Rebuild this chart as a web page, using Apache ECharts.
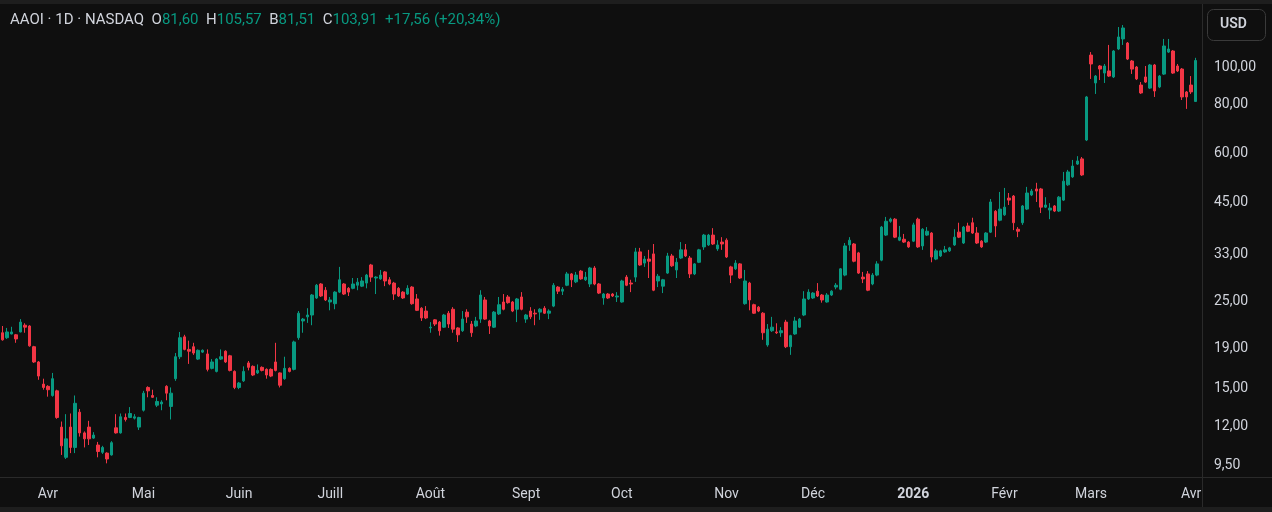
<!DOCTYPE html>
<html>
<head>
<meta charset="utf-8">
<script src="https://cdn.jsdelivr.net/npm/echarts@6/dist/echarts.min.js"></script>
<style>
html,body{margin:0;padding:0;background:#0f0f0f;}
#chart{width:1272px;height:512px;}
</style>
</head>
<body>
<div id="chart"></div>
<script>
// ---- data (AAOI daily, 2025-03-18 .. 2026-04-02) ----
const opens = [20.85,20.25,20.7,20.6,20.95,21.8,21.7,19.2,17.55,15.4,
15.2,14.4,14.8,11.95,10.0,11.95,10.6,13.05,11.55,11.95,
11.2,10.75,10.3,10.25,10.14,11.9,11.55,12.65,12.65,12.6,
11.95,13.2,15.1,14.4,13.6,13.7,15.2,13.5,15.9,18.1,
20.35,18.9,19.2,17.85,18.6,18.4,16.9,16.6,17.85,18.7,
18.2,16.6,15.1,15.7,17.45,17.1,16.45,17.0,16.8,16.8,
17.55,16.45,15.9,16.9,16.8,20.25,22.35,22.9,23.15,25.6,
27.8,26.8,25.0,24.75,26.5,27.8,27.1,27.1,27.6,27.45,
27.95,31.1,28.8,28.65,29.85,28.5,27.95,27.1,26.5,26.2,
27.3,25.45,24.1,23.7,21.45,22.5,22.2,21.55,23.4,23.95,
21.45,21.1,23.55,21.95,21.7,22.6,25.3,22.35,21.55,23.3,
25.0,25.75,25.0,23.95,25.75,22.6,23.7,23.4,23.55,24.1,
23.4,24.4,27.3,26.65,27.6,29.5,28.15,30.0,28.5,27.8,
30.55,27.8,25.6,26.2,26.2,25.75,25.0,28.95,27.95,28.95,
33.6,31.45,32.2,33.2,28.3,27.45,29.65,32.8,30.2,32.4,
34.0,32.4,29.5,31.6,34.6,35.0,37.1,34.2,35.6,36.0,
30.75,30.4,31.3,24.75,27.95,24.6,24.25,23.4,19.4,21.1,
20.95,20.85,22.2,19.2,20.7,21.55,23.15,25.45,25.6,26.65,
26.05,25.0,26.05,27.3,26.95,29.3,35.0,35.2,33.4,28.95,
29.5,27.8,29.3,32.0,37.1,40.25,40.75,36.0,36.2,35.6,
35.8,40.75,34.8,37.1,37.55,32.2,32.8,33.6,33.8,35.0,
37.75,35.4,39.15,39.9,37.55,35.8,35.6,37.75,42.7,40.5,
41.8,46.15,46.7,38.4,39.9,43.25,47.0,48.7,48.7,43.75,
43.0,44.05,42.75,45.6,49.9,52.3,56.4,58.15,65.0,107.3,
91.0,100.6,96.5,97.7,94.3,111.2,118.0,115.2,103.6,100.0,
89.9,94.3,88.3,101.2,88.9,95.9,109.2,109.9,100.6,98.8,
86.3,89.9,81.6];

const closes = [20.0,20.95,20.95,20.1,22.2,21.55,19.3,17.55,16.15,15.1,
14.9,15.9,12.65,10.7,11.15,10.6,13.75,11.55,11.15,11.15,
11.4,10.35,10.6,9.9,10.9,11.55,12.7,12.5,12.95,12.7,
12.65,14.6,14.8,14.25,13.9,13.85,14.6,14.6,18.1,20.25,
18.9,18.7,18.5,18.8,18.8,16.8,17.55,17.85,18.1,17.55,
16.7,15.1,15.5,16.6,17.0,16.25,16.7,16.7,16.25,16.15,
16.7,15.3,16.9,16.6,19.75,23.4,22.6,23.15,26.05,27.6,
25.9,25.3,25.3,26.5,28.5,26.2,26.5,27.8,28.1,28.3,
29.3,28.95,28.95,29.3,28.3,27.8,26.2,25.9,25.6,27.1,
24.75,23.8,22.75,22.75,21.55,21.95,21.1,23.15,21.95,21.3,
20.6,22.6,22.9,20.85,22.35,26.05,22.6,21.7,23.55,24.6,
23.95,24.9,23.7,25.45,23.95,23.15,22.9,23.3,23.95,23.4,
23.7,27.6,26.65,26.95,29.5,28.5,29.3,28.65,28.95,30.55,
27.8,26.35,26.2,25.6,25.9,25.9,28.3,27.6,27.8,33.6,
31.1,32.2,31.8,26.8,29.1,28.5,32.8,30.95,31.6,34.0,
32.8,29.5,31.3,34.0,37.1,37.1,35.2,35.0,35.2,32.6,
29.3,31.45,28.8,28.3,25.3,23.4,23.7,20.85,21.3,21.55,
20.85,21.1,19.2,20.5,22.35,22.6,25.45,26.5,26.35,25.9,
25.3,26.05,26.65,27.6,30.4,34.8,36.0,31.8,29.65,28.65,
26.8,29.3,31.3,38.9,40.25,40.75,36.65,36.65,35.6,34.6,
39.4,34.6,38.4,37.95,32.6,33.8,33.8,34.0,34.4,36.65,
36.65,38.9,37.95,37.55,35.4,34.6,37.55,45.1,39.15,43.25,
43.75,45.6,39.9,37.95,44.05,47.55,48.1,48.1,43.75,44.3,
43.5,42.75,46.4,51.0,53.85,55.75,57.45,52.9,83.8,101.8,
94.8,98.8,100.6,94.8,109.9,119.4,125.9,104.8,98.8,93.2,
85.8,91.5,101.2,86.8,94.8,113.2,111.2,96.5,97.7,83.8,
83.8,86.35,103.91];

const highs = [21.7,21.45,21.6,20.7,22.6,22.05,21.8,19.3,17.65,15.9,
15.3,16.45,14.9,12.35,12.9,12.95,14.4,13.3,11.65,12.4,
11.6,10.95,10.7,10.3,11.0,12.9,12.95,12.95,13.45,12.9,
12.7,14.8,15.2,14.9,14.25,14.0,15.3,15.1,18.5,20.95,
20.6,19.9,19.65,18.9,18.9,18.9,17.85,17.95,18.9,18.8,
18.3,16.7,15.6,17.1,17.65,17.2,17.3,17.1,16.9,16.9,
19.65,16.5,18.1,17.0,19.9,23.7,22.75,24.1,26.2,27.8,
27.95,27.3,25.75,26.65,30.75,27.95,27.3,28.8,28.8,28.95,
29.5,31.3,29.1,30.2,30.0,28.95,28.15,27.3,26.65,27.6,
27.45,26.2,24.25,24.4,22.2,22.6,22.35,23.3,23.7,24.25,
21.55,23.7,23.95,22.35,22.9,26.8,25.75,22.5,23.7,25.75,
26.2,26.05,25.15,25.6,26.5,23.3,24.25,23.95,24.1,24.4,
23.95,27.95,27.45,27.3,29.85,29.65,29.85,30.2,29.85,30.75,
30.9,27.95,26.35,26.35,26.35,26.5,28.5,29.3,28.5,34.4,
34.4,32.8,34.0,35.2,29.5,28.65,33.4,33.2,32.4,35.6,
35.2,32.8,31.45,34.2,37.35,37.35,38.65,36.0,36.65,36.4,
30.95,32.0,31.45,30.2,28.15,24.75,24.4,23.55,21.95,22.9,
22.05,21.55,22.5,20.6,22.9,22.75,26.65,26.95,26.5,27.95,
26.2,26.35,26.8,27.95,30.55,35.4,36.65,35.4,33.6,29.85,
30.0,29.65,31.8,39.15,41.3,41.1,41.0,39.15,37.35,35.8,
39.9,41.1,38.65,38.9,37.75,34.2,34.0,34.8,34.6,38.4,
39.9,39.15,39.9,41.1,38.9,36.0,37.75,45.9,43.0,47.85,
49.0,47.55,47.0,38.9,44.3,49.3,48.7,50.5,49.0,46.4,
44.8,44.3,46.7,53.85,54.5,57.8,59.1,58.8,84.3,109.2,
95.4,101.2,101.8,113.9,110.5,126.6,128.1,115.9,104.2,100.6,
91.5,100.6,101.8,101.8,95.4,118.0,118.0,110.5,101.8,99.4,
86.8,94.8,105.57];

const lows = [19.9,20.1,20.65,19.65,20.9,20.85,19.2,17.45,15.8,14.9,
14.3,14.3,12.55,10.14,9.9,10.25,10.25,11.3,10.6,10.75,
11.15,10.0,10.2,9.65,10.1,11.5,11.5,12.35,12.6,12.5,
11.75,13.1,14.25,14.2,13.45,13.2,14.0,12.5,15.7,17.85,
18.8,17.35,18.3,17.75,18.5,16.6,16.8,16.5,17.75,17.45,
16.6,14.95,14.95,15.6,16.7,16.15,16.35,16.6,15.9,16.05,
16.6,15.1,15.8,16.5,16.7,20.0,20.85,22.1,21.8,25.45,
25.75,25.15,23.8,23.95,26.35,26.05,25.9,26.95,26.8,27.3,
27.1,28.15,26.2,28.5,27.45,27.6,25.3,25.75,25.45,26.05,
24.6,23.7,22.35,22.6,20.85,21.7,20.5,21.45,21.45,20.85,
19.75,20.95,22.1,20.35,21.55,22.1,22.5,20.7,21.45,23.15,
23.8,24.75,23.55,22.2,23.8,22.1,22.6,21.8,22.5,23.3,
22.6,24.25,26.2,26.05,27.45,27.3,27.95,28.5,28.3,27.3,
27.6,26.2,24.6,25.45,25.75,25.0,24.9,27.45,26.5,28.15,
30.95,30.75,28.8,26.65,27.3,26.35,29.5,30.75,28.8,32.2,
32.6,28.8,29.3,31.45,34.0,34.8,35.0,33.8,34.0,32.4,
27.95,30.2,28.65,24.6,23.8,23.3,23.55,20.0,19.2,20.95,
20.7,20.35,19.05,18.3,20.6,21.45,23.0,25.3,25.45,25.75,
24.9,24.9,25.9,26.95,26.8,29.1,33.8,31.6,29.5,27.95,
26.65,27.6,29.1,31.8,36.9,39.9,36.45,35.8,35.4,34.4,
35.6,34.4,34.0,36.9,31.6,32.0,32.6,33.4,33.6,34.8,
36.45,35.2,37.75,37.35,35.2,34.4,35.4,37.55,36.65,40.25,
41.55,44.3,38.2,36.65,39.4,43.0,46.7,45.1,42.25,43.5,
40.75,42.5,42.5,45.35,49.6,52.0,56.1,52.6,64.6,93.2,
85.3,92.6,91.0,94.3,93.7,110.5,113.9,104.2,96.0,92.6,
85.3,91.0,87.8,83.8,88.3,95.4,108.6,96.0,97.1,82.3,
78.1,85.3,81.51];

const priceTicks = [9.5, 12, 15, 19, 25, 33, 45, 60, 80, 100];
const monthNames = ['Janv','Févr','Mars','Avr','Mai','Juin','Juill','Août','Sept','Oct','Nov','Déc'];
const startDate = '2025-03-18';
const holidays = ['2025-04-18','2025-05-26','2025-06-19','2025-07-04','2025-09-01',
  '2025-11-27','2025-12-25','2026-01-01','2026-01-19','2026-02-16'];

// trading-day categories
function pad(n){return n<10?'0'+n:''+n;}
const dates = [];
(function(){
  const d = new Date(startDate + 'T12:00:00Z');
  while (dates.length < closes.length) {
    const wd = d.getUTCDay();
    const s = d.getUTCFullYear() + '-' + pad(d.getUTCMonth()+1) + '-' + pad(d.getUTCDate());
    if (wd !== 0 && wd !== 6 && holidays.indexOf(s) < 0) dates.push(s);
    d.setUTCDate(d.getUTCDate() + 1);
  }
})();
const isMonthStart = dates.map((s,i) => i > 0 && s.slice(0,7) !== dates[i-1].slice(0,7));

const candles = opens.map((o,i) => [o, closes[i], lows[i], highs[i]]);

const UP = '#089981', DOWN = '#f23645';
const TXT = '#d1d4dc';
const LINE = '#2a2a2a';
const FONT = 'Roboto, "Noto Sans", sans-serif';

const chart = echarts.init(document.getElementById('chart'), null, {renderer:'canvas'});
chart.setOption({
  backgroundColor: '#0f0f0f',
  animation: false,
  textStyle: {fontFamily: FONT},
  title: {
    left: 10, top: 13, padding: 0,
    text: '{n|AAOI · 1D · NASDAQ}  {l|O}{v|81,60}  {l|H}{v|105,57}  {l|B}{v|81,51}  {l|C}{v|103,91}  {v|+17,56 (+20,34%)}',
    textStyle: {
      fontFamily: FONT, fontSize: 15, fontWeight: 'normal', color: TXT,
      rich: {
        n: {color: TXT, fontSize: 15, fontFamily: FONT},
        l: {color: TXT, fontSize: 15, fontFamily: FONT},
        v: {color: UP, fontSize: 15, fontFamily: FONT}
      }
    }
  },
  grid: {left: 0, right: 74, top: 5, bottom: 35},
  xAxis: {
    type: 'category',
    data: dates,
    boundaryGap: true,
    axisLine: {show: false},
    axisTick: {show: false},
    splitLine: {show: false},
    axisLabel: {
      color: TXT, fontSize: 14, fontFamily: FONT, margin: 10,
      interval: (i) => isMonthStart[i],
      formatter: (v) => {
        const m = parseInt(v.slice(5,7),10);
        if (m === 1) return '{y|' + v.slice(0,4) + '}';
        return monthNames[m-1];
      },
      rich: {y: {fontWeight: 'bold', color: TXT, fontSize: 14, fontFamily: FONT}}
    }
  },
  yAxis: {
    type: 'log',
    logBase: 10,
    position: 'right',
    min: 8.903,
    max: 144.17,
    axisLine: {show: false},
    axisTick: {show: false},
    splitLine: {show: false},
    axisLabel: {
      customValues: priceTicks,
      color: TXT, fontSize: 14, fontFamily: FONT, margin: 16, align: 'left',
      formatter: (v) => Number(v).toFixed(2).replace('.', ',')
    }
  },
  series: [{
    type: 'candlestick',
    data: candles,
    barWidth: 3,
    itemStyle: {
      color: UP, color0: DOWN,
      borderColor: UP, borderColor0: DOWN,
      borderWidth: 1
    }
  }],
  graphic: [
    {type: 'rect', left: 0, top: 0, shape: {width: 1272, height: 4}, style: {fill: '#1e1e1e'}, silent: true},
    {type: 'rect', left: 0, top: 507, shape: {width: 1272, height: 5}, style: {fill: '#1e1e1e'}, silent: true},
    {type: 'line', shape: {x1: 1202.5, y1: 4, x2: 1202.5, y2: 507}, style: {stroke: LINE, lineWidth: 1}, silent: true},
    {type: 'line', shape: {x1: 0, y1: 477.5, x2: 1272, y2: 477.5}, style: {stroke: LINE, lineWidth: 1}, silent: true},
    {type: 'rect', left: 1207, top: 9, shape: {width: 58, height: 31, r: 6},
      style: {fill: '#0f0f0f', stroke: '#3a3a3a', lineWidth: 1}, silent: true},
    {type: 'text', left: 1220, top: 17, style: {text: 'USD', fill: TXT, font: '600 14px ' + FONT}, silent: true}
  ]
});
</script>
</body>
</html>
